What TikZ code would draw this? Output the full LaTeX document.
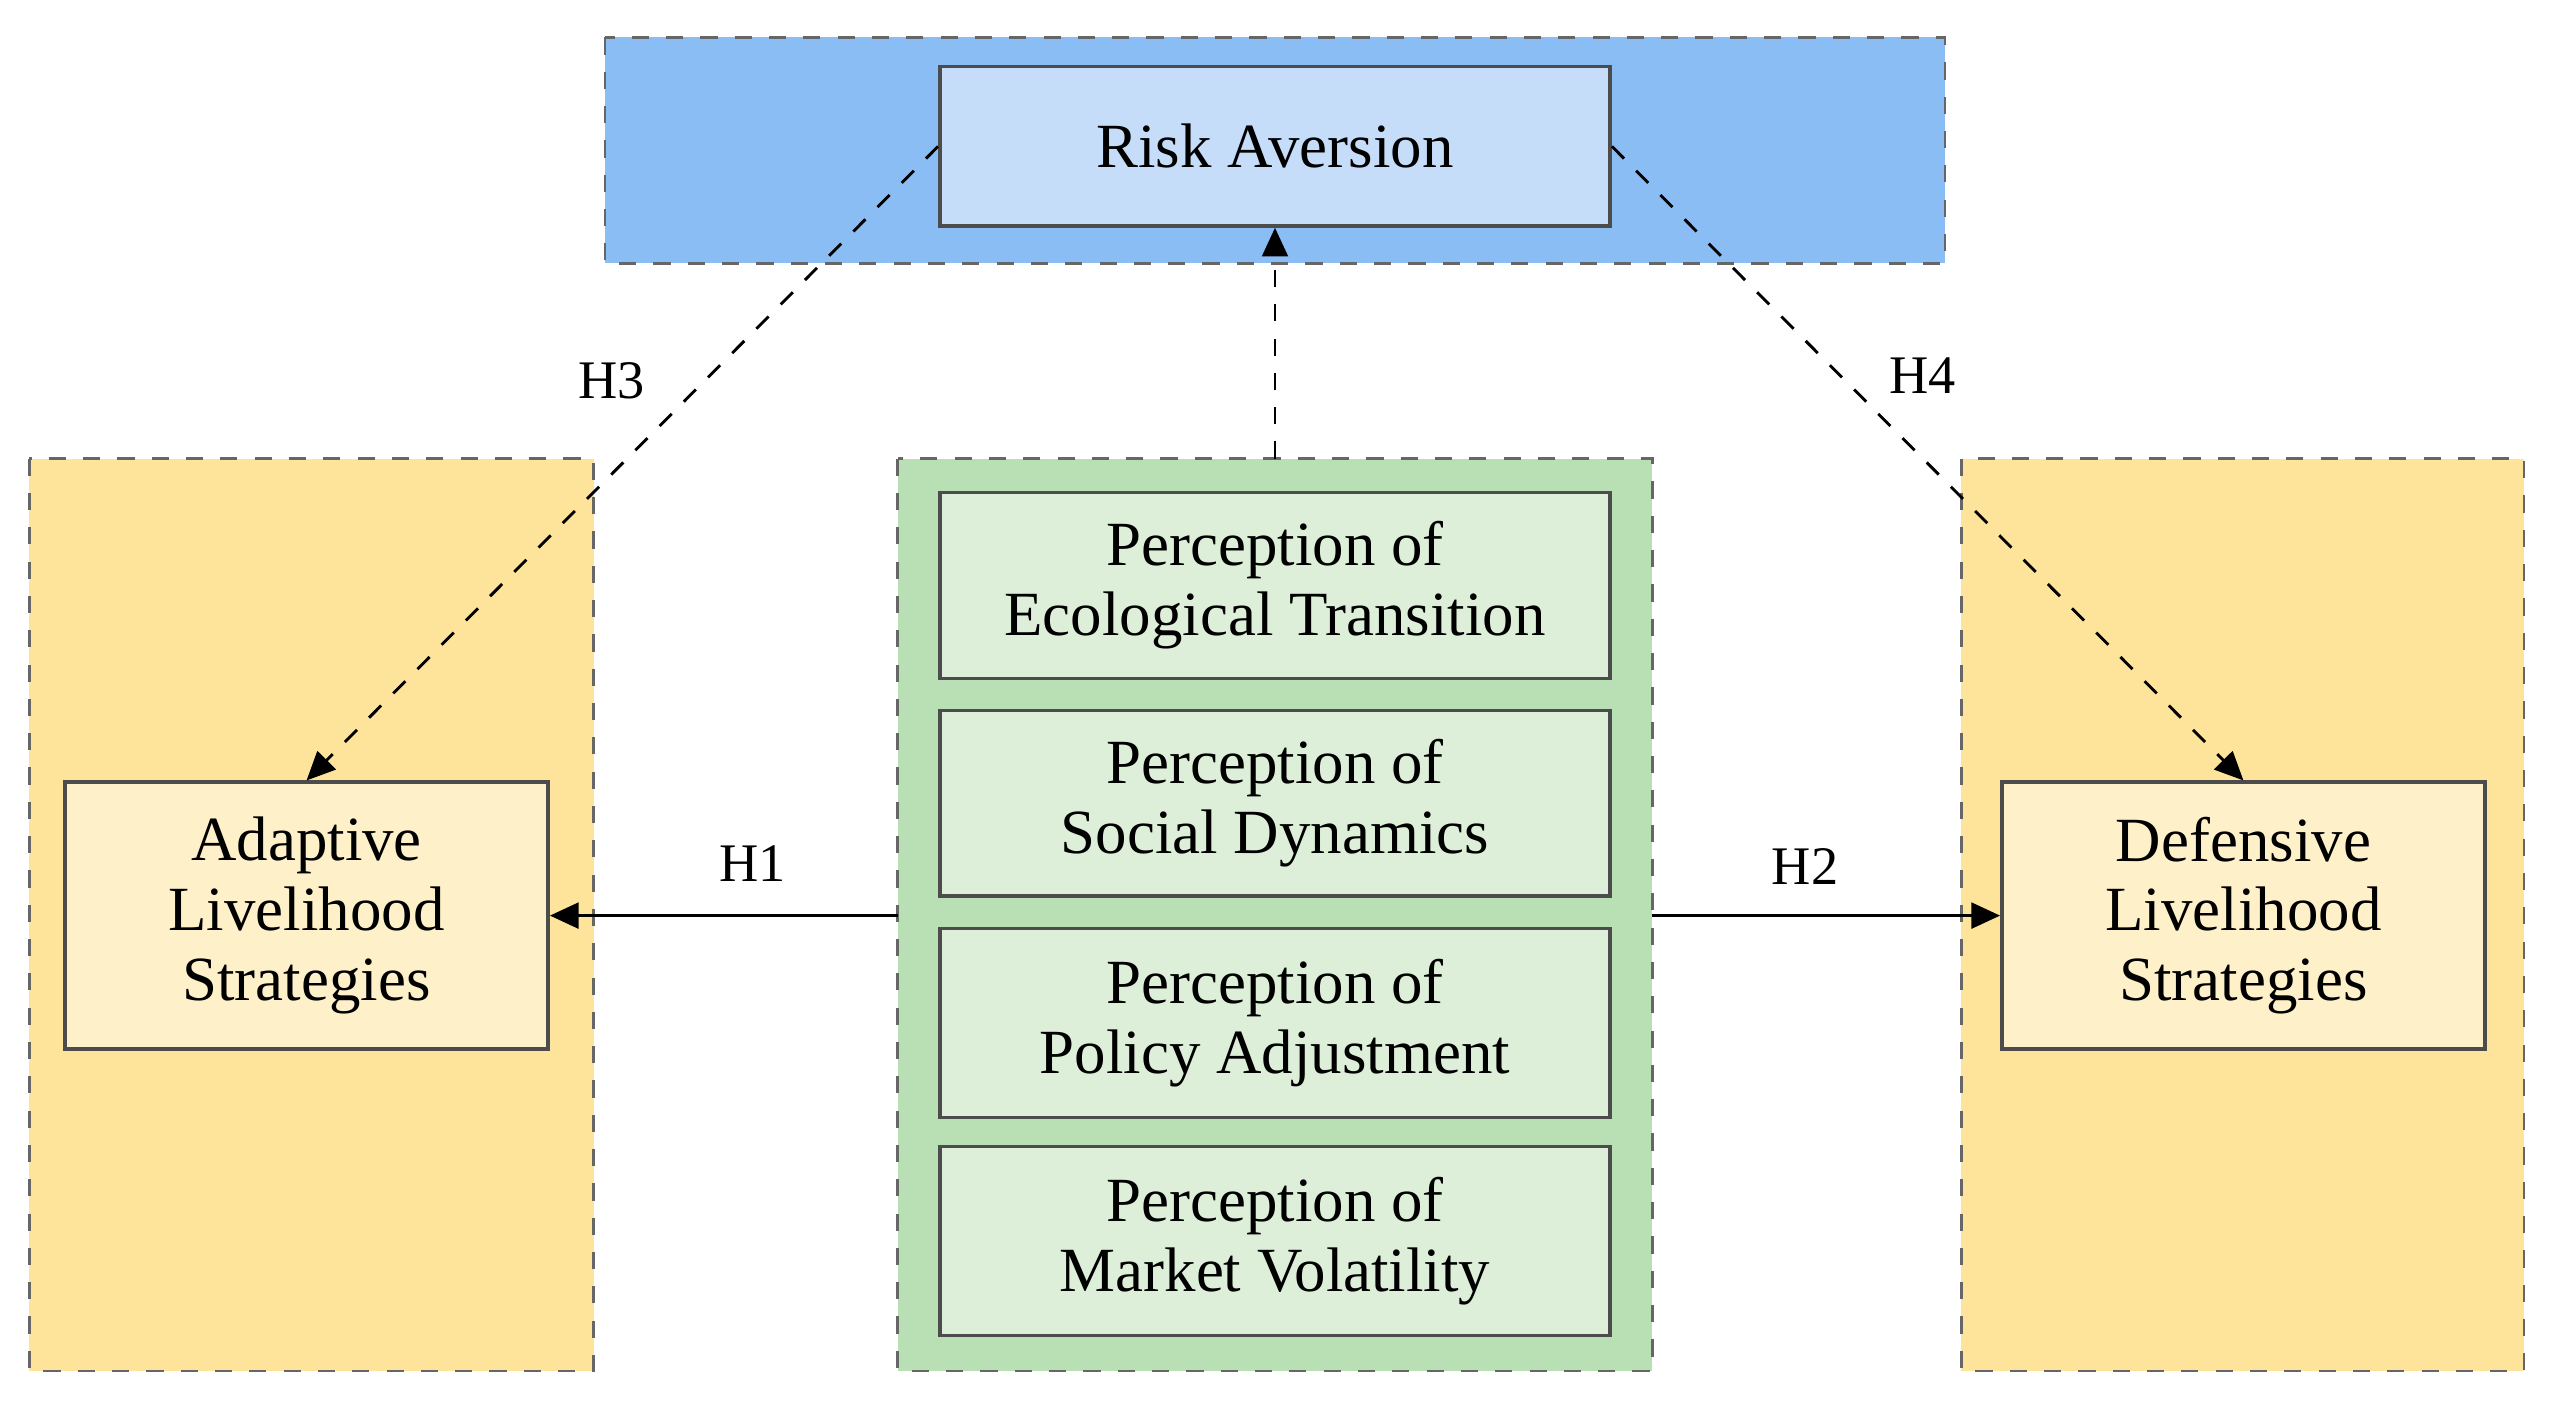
\documentclass[tikz,border=0pt]{standalone}
\usepackage{fontspec}
\setmainfont{Liberation Serif}
\usetikzlibrary{arrows.meta}
\definecolor{bluebg}{HTML}{8BBDF5}
\definecolor{bluein}{HTML}{C5DDF8}
\definecolor{greenbg}{HTML}{B9DFB4}
\definecolor{greenin}{HTML}{DDEFD9}
\definecolor{yelbg}{HTML}{FDE49A}
\definecolor{yelin}{HTML}{FEF0C8}
\begin{document}
\begin{tikzpicture}[x=0.01cm,y=-0.01cm,
  outer/.style={draw=gray!80!black,dashed,line width=0.5pt},
  inner/.style={draw=gray!60!black,line width=0.6pt},
  txt/.style={font=\fontsize{11}{12.2}\selectfont,align=center},
  arr/.style={-{Triangle[length=5pt,width=4.5pt]},line width=0.5pt},
  lab/.style={font=\fontsize{9.5}{11}\selectfont}]
\useasboundingbox (0,0) rectangle (1568,866);
\path[outer,fill=bluebg] (372,23) rectangle (1196,162);
\path[outer,fill=greenbg] (552,282) rectangle (1016,843);
\path[outer,fill=yelbg] (18,282) rectangle (365,843);
\path[outer,fill=yelbg] (1206,282) rectangle (1552,843);
\node[inner,fill=bluein,minimum width=4.12cm,minimum height=0.98cm,txt] (ra) at (784,90) {Risk Aversion};
\node[inner,fill=greenin,minimum width=4.12cm,minimum height=1.14cm,txt] (p1) at (784,360) {Perception of\\Ecological Transition};
\node[inner,fill=greenin,minimum width=4.12cm,minimum height=1.14cm,txt] (p2) at (784,494) {Perception of\\Social Dynamics};
\node[inner,fill=greenin,minimum width=4.12cm,minimum height=1.16cm,txt] (p3) at (784,629) {Perception of\\Policy Adjustment};
\node[inner,fill=greenin,minimum width=4.12cm,minimum height=1.16cm,txt] (p4) at (784,763) {Perception of\\Market Volatility};
\node[inner,fill=yelin,minimum width=2.97cm,minimum height=1.64cm,txt] (al) at (188.5,563) {Adaptive\\Livelihood\\Strategies};
\node[inner,fill=yelin,minimum width=2.97cm,minimum height=1.64cm,txt] (dl) at (1379.5,563) {Defensive\\Livelihood\\Strategies};
\coordinate (gl) at (552,563);
\coordinate (gr) at (1016,563);
\coordinate (gt) at (784,282);
\draw[arr] (gl) -- (al.east);
\draw[arr] (gr) -- (dl.west);
\draw[arr,dashed] (gt) -- (ra.south);
\draw[arr,dashed] (ra.west) -- (al.north);
\draw[arr,dashed] (ra.east) -- (dl.north);
\node[lab] (h1) at (463,531) {H1};
\node[lab] (h2) at (1110,533) {H2};
\node[lab] (h3) at (376,234) {H3};
\node[lab] (h4) at (1182,231) {H4};
\end{tikzpicture}
\end{document}
